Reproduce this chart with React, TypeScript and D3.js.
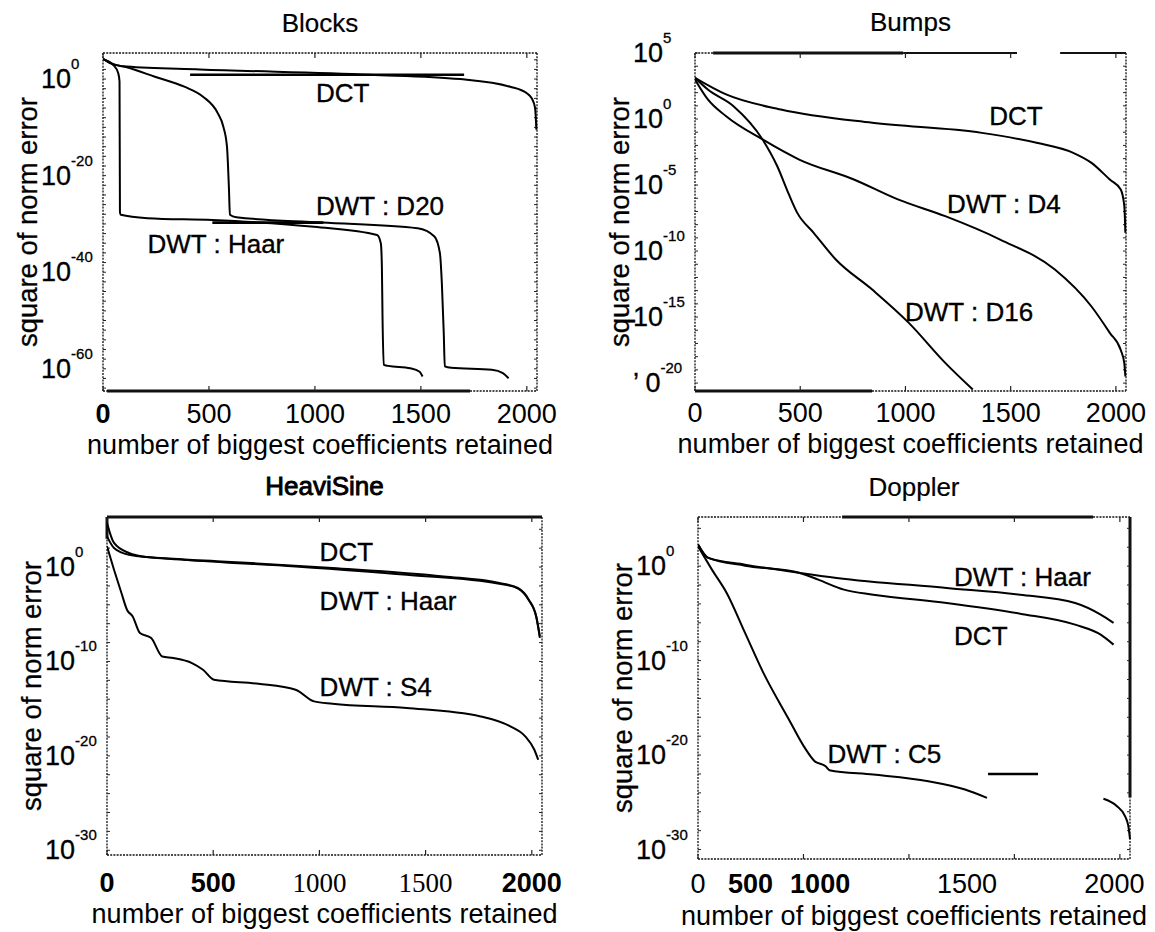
import * as d3 from "d3";

// each point: [coefficients retained, log10 of squared norm error]
type Pt = [number, number] | null;

const xTickValues = [0, 500, 1000, 1500, 2000];
const xAxisLabel = "number of biggest coefficients retained";
const yAxisLabel = "square of norm error";

// y tick exponents per panel
const blocksYTicks = [0, -20, -40, -60];
const bumpsYTicks = [5, 0, -5, -10, -15, -20];
const heaviYTicks = [0, -10, -20, -30];
const dopplerYTicks = [0, -10, -20, -30];

// Blocks
const blocksDCT: Pt[] = [[0, 4.2], [50, 3.0], [112, 2.6], [458, 2.0], [1258, 0.9], [1685, 0.0], [1921, -1.58], [2000, -2.94], [2023, -3.98], [2039, -6.0], [2045, -10.5]];
const blocksD20: Pt[] = [[0, 4.2], [50, 3.1], [112, 2.44], [245, 0.49], [384, -1.58], [472, -3.65], [542, -7.1], [568, -9.86], [585, -14.0], [594, -22.3], [599, -28.1], [629, -28.6], [1031, -29.7], [1485, -30.9], [1564, -32.6], [1590, -36.1], [1599, -42.3], [1608, -52.6], [1613, -59.5], [1643, -59.8], [1835, -60.2], [1887, -60.9], [1914, -61.95]];
const blocksHaar: Pt[] = [[0, 4.1], [49, 2.9], [72, 1.2], [78, -0.5], [80, -27.6], [84, -28.1], [210, -28.8], [516, -29.2], [996, -30.6], [1293, -32.3], [1311, -34], [1316, -38.8], [1319, -49.2], [1325, -59.2], [1346, -59.4], [1450, -59.9], [1494, -60.6], [1508, -61.6]];

// Bumps
const bumpsDCT: Pt[] = [[0, 3.12], [148, 1.86], [408, 0.72], [842, -0.29], [1363, -1.05], [1623, -1.8], [1797, -2.56], [1884, -3.32], [1971, -4.58], [2023, -5.34], [2040, -6.6], [2045, -8.62]];
const bumpsD4: Pt[] = [[0, 2.99], [61, 1.48], [148, 0.21], [321, -1.55], [495, -3.07], [755, -4.58], [964, -6.09], [1189, -7.36], [1450, -9.13], [1710, -11.4], [1884, -14.2], [1971, -16.2], [2023, -17.5], [2040, -18.5], [2045, -19.5]];
const bumpsD16: Pt[] = [[0, 3.12], [61, 2.23], [183, 0.97], [321, -1.55], [391, -3.58], [443, -5.59], [486, -7.11], [564, -8.62], [669, -10.64], [842, -12.92], [1016, -15.44], [1189, -18.47], [1320, -20.49]];

// HeaviSine
const heaviDCT: Pt[] = [[0, 4.66], [33, 2.55], [103, 1.49], [190, 1.06], [539, 0.6], [1062, -0.1], [1585, -0.99], [1847, -1.69], [1934, -2.22], [1986, -3.46], [2021, -5.23], [2038, -7.35]];
const heaviHaar: Pt[] = [[0, 3.25], [33, 2.02], [103, 1.31], [365, 0.78], [888, 0.07], [1411, -0.81], [1847, -1.77], [1934, -2.26], [1986, -3.53], [2021, -5.3], [2038, -7.5]];
const heaviS4: Pt[] = [[0, 2.19], [33, -0.28], [68, -2.75], [94, -4.52], [121, -5.23], [155, -6.99], [208, -7.52], [260, -9.47], [312, -9.64], [400, -10.17], [452, -10.88], [504, -11.94], [713, -12.36], [888, -12.99], [975, -14.23], [1062, -14.48], [1411, -14.93], [1759, -15.82], [1899, -16.88], [1969, -17.94], [2012, -19.35], [2030, -20.41]];

// Doppler (C5 has a gap in the scan)
const dopplerHaar: Pt[] = [[0, 2.3], [49, 0.87], [223, 0.16], [483, -0.72], [657, -1.25], [1179, -2.31], [1527, -3.02], [1788, -3.9], [1909, -5.13], [1970, -6.01]];
const dopplerDCT: Pt[] = [[0, 2.3], [49, 0.87], [223, 0.05], [483, -0.72], [570, -1.43], [692, -2.49], [831, -3.02], [1179, -3.9], [1527, -5.03], [1788, -6.19], [1909, -7.25], [1970, -8.31]];
const dopplerC5: Pt[] = [[0, 2.1], [66, -0.37], [136, -2.84], [223, -7.07], [310, -11.3], [431, -16.23], [501, -19.05], [553, -20.65], [605, -21.18], [623, -21.6], [831, -22.06], [1092, -22.77], [1266, -23.65], [1370, -24.53], null, [1922, -24.63], [1985, -25.4], [2025, -26.5], [2040, -27.5], [2048, -28.9]];

// stray straight strokes in the scan: [from n, to n, log10 error]
const blocksStray: [number, number, number][] = [[411, 1704, 0.91], [516, 1040, -29.73]];
const dopplerStray: [number, number, number][] = [[1375, 1612, -22.0]];

type Note = { text: string; n: number; e: number };
type FrameSeg = { side: "top" | "bottom" | "left" | "right"; from: number; to: number; kind: "dot" | "solid" | "thick" };

type Panel = {
  title: string;
  titleBold?: boolean;
  left: number; right: number; top: number; bottom: number;
  yDomain: [number, number];
  yTicks: number[];
  yTickBase?: string[];
  minorStep: number;
  series: Pt[][];
  notes: Note[];
  stray: [number, number, number][];
  frame: FrameSeg[];
  xTickDy: number;
  xLabelDy: number;
  titleDy: number;
  xTickFont?: string[];
  xTickWeight?: string[];
  xLabelAt?: number[];
};

const SANS = "'Liberation Sans', Arial, Helvetica, sans-serif";
const SERIF = "'Liberation Serif', 'Times New Roman', serif";

const panels: Panel[] = [
  {
    title: "Blocks", left: 103, right: 537, top: 53, bottom: 391,
    yDomain: [-64.6, 5.4], yTicks: blocksYTicks, minorStep: 2,
    series: [blocksDCT, blocksD20, blocksHaar],
    notes: [
      { text: "DCT", n: 1005, e: -4.7 },
      { text: "DWT : D20", n: 1005, e: -28.1 },
      { text: "DWT : Haar", n: 210, e: -36.07 },
    ],
    stray: blocksStray,
    frame: [
      { side: "top", from: 0, to: 2048, kind: "dot" },
      { side: "bottom", from: 0, to: 19, kind: "dot" },
      { side: "bottom", from: 19, to: 1732, kind: "thick" },
      { side: "bottom", from: 1732, to: 2048, kind: "dot" },
      { side: "left", from: -64.6, to: 5.4, kind: "dot" },
      { side: "right", from: -64.6, to: 5.4, kind: "dot" },
    ],
    xTickDy: 32, xLabelDy: 63, titleDy: -21,
    xTickWeight: ["bold", "normal", "normal", "normal", "normal"],
  },
  {
    title: "Bumps", left: 695, right: 1126, top: 53, bottom: 391,
    yDomain: [-20.6, 5], yTicks: bumpsYTicks, minorStep: 1,
    yTickBase: ["10", "10", "10", "10", "10", "\u2019 0"],
    series: [bumpsDCT, bumpsD4, bumpsD16],
    notes: [
      { text: "DCT", n: 1398, e: -0.42 },
      { text: "DWT : D4", n: 1198, e: -7.1 },
      { text: "DWT : D16", n: 998, e: -15.3 },
    ],
    stray: [],
    frame: [
      { side: "top", from: 0, to: 86, kind: "dot" },
      { side: "top", from: 86, to: 989, kind: "thick" },
      { side: "top", from: 989, to: 1530, kind: "solid" },
      { side: "top", from: 1735, to: 2048, kind: "solid" },
      { side: "bottom", from: 0, to: 841, kind: "thick" },
      { side: "bottom", from: 841, to: 2048, kind: "dot" },
      { side: "left", from: -20.6, to: 5, kind: "dot" },
      { side: "right", from: -20.6, to: 5, kind: "dot" },
    ],
    xTickDy: 31, xLabelDy: 62, titleDy: -22,
  },
  {
    title: "HeaviSine", titleBold: true, left: 107, right: 542, top: 517, bottom: 855,
    yDomain: [-30.5, 5.3], yTicks: heaviYTicks, minorStep: 2,
    series: [heaviDCT, heaviHaar, heaviS4],
    notes: [
      { text: "DCT", n: 1001, e: 0.6 },
      { text: "DWT : Haar", n: 1001, e: -4.52 },
      { text: "DWT : S4", n: 1001, e: -13.7 },
    ],
    stray: [],
    frame: [
      { side: "top", from: 0, to: 2048, kind: "thick" },
      { side: "bottom", from: 0, to: 2048, kind: "dot" },
      { side: "left", from: -30.5, to: 5.3, kind: "dot" },
      { side: "left", from: 3, to: 5.3, kind: "thick" },
      { side: "right", from: -30.5, to: 5.3, kind: "dot" },
    ],
    xTickDy: 37, xLabelDy: 68, titleDy: -22,
    xTickFont: [SANS, SANS, SERIF, SERIF, SANS],
    xTickWeight: ["bold", "bold", "normal", "normal", "bold"],
  },
  {
    title: "Doppler", left: 698, right: 1130, top: 517, bottom: 859,
    yDomain: [-31, 5.2], yTicks: dopplerYTicks, minorStep: 2,
    series: [dopplerHaar, dopplerDCT, dopplerC5],
    notes: [
      { text: "DWT : Haar", n: 1214, e: -2.14 },
      { text: "DCT", n: 1214, e: -8.3 },
      { text: "DWT : C5", n: 614, e: -20.8 },
    ],
    stray: dopplerStray,
    frame: [
      { side: "top", from: 0, to: 683, kind: "dot" },
      { side: "top", from: 683, to: 1873, kind: "thick" },
      { side: "top", from: 1873, to: 2048, kind: "dot" },
      { side: "bottom", from: 0, to: 2048, kind: "dot" },
      { side: "left", from: -31, to: 5.2, kind: "dot" },
      { side: "right", from: -31, to: -24.5, kind: "dot" },
      { side: "right", from: -24.5, to: 5.2, kind: "thick" },
    ],
    xTickDy: 34, xLabelDy: 66, titleDy: -21,
    xTickWeight: ["normal", "bold", "bold", "normal", "normal"],
    xLabelAt: [0, 249, 579, 1275, 1974],
  },
];

const strokeFor = (k: string) =>
  k === "thick" ? { w: 3, dash: undefined } : k === "solid" ? { w: 1.8, dash: undefined } : { w: 1.3, dash: "2 1.2" };

function ChartPanel({ p, idx }: { p: Panel; idx: number }) {
  const x = d3.scaleLinear().domain([0, 2048]).range([p.left, p.right]);
  const y = d3.scaleLog().domain([10 ** p.yDomain[0], 10 ** p.yDomain[1]]).range([p.bottom, p.top]);
  const ye = (e: number) => y(10 ** e);

  const line = d3
    .line<Pt>()
    .defined((d) => d !== null)
    .x((d) => x((d as [number, number])[0]))
    .y((d) => ye((d as [number, number])[1]))
    .curve(d3.curveMonotoneX);

  const minor = d3.range(Math.ceil(p.yDomain[0]), Math.floor(p.yDomain[1]) + 1).filter((e) => e % p.minorStep === 0);
  const clipId = `clip-${idx}`;
  const cx = (p.left + p.right) / 2;
  const cy = (p.top + p.bottom) / 2;

  return (
    <g fontFamily={SANS} fill="#000">
      <defs>
        <clipPath id={clipId}>
          <rect x={p.left} y={p.top - 1} width={p.right - p.left + 1} height={p.bottom - p.top + 2} />
        </clipPath>
      </defs>

      <text x={cx} y={p.top + p.titleDy} textAnchor="middle" fontSize={26}
        stroke="#000" strokeWidth={p.titleBold ? 0.9 : 0.2}>{p.title}</text>

      {/* frame */}
      {p.frame.map((f, i) => {
        const s = strokeFor(f.kind);
        const horiz = f.side === "top" || f.side === "bottom";
        const yy = f.side === "top" ? p.top : p.bottom;
        const xx = f.side === "left" ? p.left : p.right;
        return horiz ? (
          <line key={i} x1={x(f.from)} x2={x(f.to)} y1={yy} y2={yy} stroke="#111" strokeWidth={s.w} strokeDasharray={s.dash} />
        ) : (
          <line key={i} x1={xx} x2={xx} y1={ye(f.from)} y2={ye(f.to)} stroke="#111" strokeWidth={s.w} strokeDasharray={s.dash} />
        );
      })}

      {/* inward tick marks */}
      {minor.map((e) => (
        <g key={"m" + e} stroke="#222" strokeWidth={1}>
          <line x1={p.left} x2={p.left + 3} y1={ye(e)} y2={ye(e)} />
          <line x1={p.right} x2={p.right - 3} y1={ye(e)} y2={ye(e)} />
        </g>
      ))}
      {xTickValues.map((v) => (
        <g key={"xt" + v} stroke="#222" strokeWidth={1.2}>
          <line x1={x(v)} x2={x(v)} y1={p.bottom} y2={p.bottom - 5} />
          <line x1={x(v)} x2={x(v)} y1={p.top} y2={p.top + 5} />
        </g>
      ))}

      {/* y tick labels */}
      {p.yTicks.map((e, i) => (
        <text key={"yl" + e} x={p.left - 62} y={ye(e) + 9} fontSize={27} stroke="#000" strokeWidth={0.3}>
          {p.yTickBase ? p.yTickBase[i] : "10"}
          <tspan dy={-19} fontSize={15}>{String(e)}</tspan>
        </text>
      ))}

      {/* x tick labels */}
      {xTickValues.map((v, i) => (
        <text key={"xl" + v} x={x(p.xLabelAt ? p.xLabelAt[i] : v)} y={p.bottom + p.xTickDy} textAnchor="middle"
          fontSize={27} fontFamily={p.xTickFont ? p.xTickFont[i] : SANS}
          fontWeight={p.xTickWeight ? p.xTickWeight[i] : "normal"}>
          {v}
        </text>
      ))}

      <text x={cx} y={p.bottom + p.xLabelDy} textAnchor="middle" fontSize={27} textLength={466} lengthAdjust="spacing">
        {xAxisLabel}
      </text>
      <text transform={`translate(${p.left - 75},${cy}) rotate(-90)`} textAnchor="middle" dominantBaseline="central"
        fontSize={27} textLength={250} lengthAdjust="spacingAndGlyphs" stroke="#000" strokeWidth={0.3}>
        {yAxisLabel}
      </text>

      {/* curves */}
      <g clipPath={`url(#${clipId})`}>
        {p.series.map((s, i) => (
          <path key={"s" + i} d={line(s) ?? undefined} fill="none" stroke="#000" strokeWidth={2} strokeLinejoin="round" />
        ))}
        {p.stray.map((s, i) => (
          <line key={"st" + i} x1={x(s[0])} x2={x(s[1])} y1={ye(s[2])} y2={ye(s[2])} stroke="#000" strokeWidth={2.6} />
        ))}
      </g>

      {/* curve names */}
      {p.notes.map((n) => (
        <text key={n.text} x={x(n.n)} y={ye(n.e)} fontSize={26} stroke="#000" strokeWidth={0.35}>
          {n.text}
        </text>
      ))}
    </g>
  );
}

export default function App() {
  return (
    <svg width={1155} height={932} viewBox="0 0 1155 932"
      style={{ position: "absolute", left: 0, top: 0, background: "#fff" }}>
      <rect width={1155} height={932} fill="#fff" />
      {panels.map((p, i) => (
        <ChartPanel key={p.title} p={p} idx={i} />
      ))}
    </svg>
  );
}
